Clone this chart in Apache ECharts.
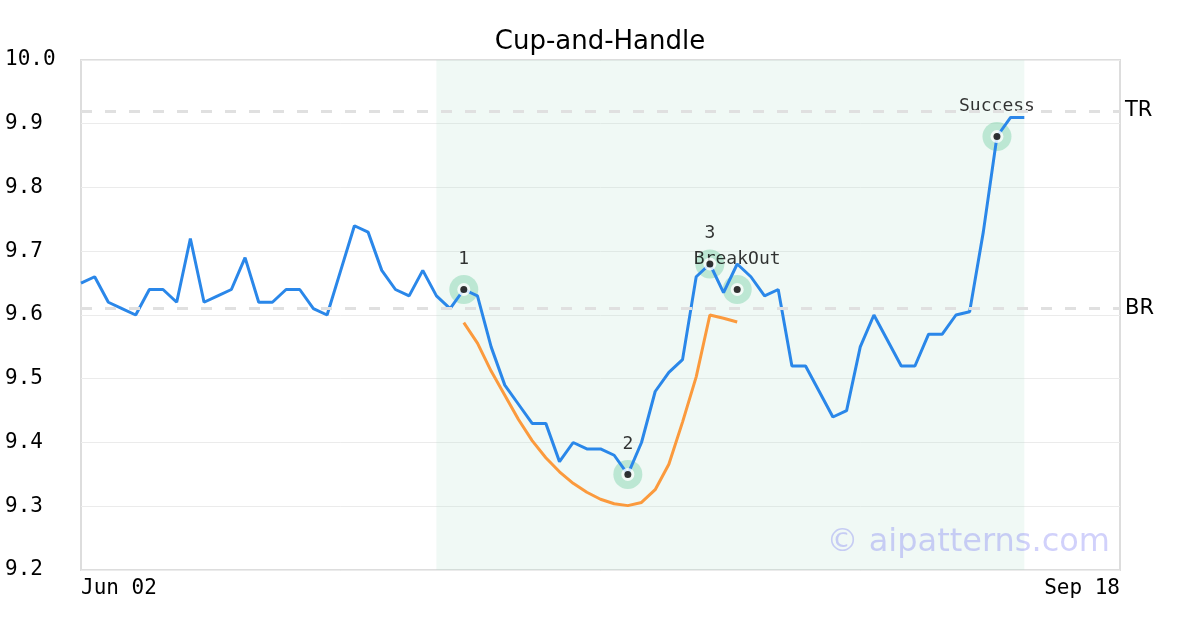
<!DOCTYPE html>
<html>
<head>
<meta charset="utf-8">
<script src="https://cdn.jsdelivr.net/npm/echarts@6/dist/echarts.min.js"></script>
<style>html,body{margin:0;padding:0;background:#fff}#c{width:1200px;height:630px}</style>
</head>
<body>
<div id="c"></div>
<script>
var categories = [
 'Jun 02','Jun 03','Jun 04','Jun 05','Jun 06','Jun 09','Jun 10','Jun 11','Jun 12','Jun 13',
 'Jun 16','Jun 17','Jun 18','Jun 19','Jun 20','Jun 23','Jun 24','Jun 25','Jun 26','Jun 27','Jun 30',
 'Jul 01','Jul 02','Jul 03','Jul 07','Jul 08','Jul 09','Jul 10','Jul 11','Jul 14','Jul 15','Jul 16',
 'Jul 17','Jul 18','Jul 21','Jul 22','Jul 23','Jul 24','Jul 25','Jul 28','Jul 29','Jul 30','Jul 31',
 'Aug 01','Aug 04','Aug 05','Aug 06','Aug 07','Aug 08','Aug 11','Aug 12','Aug 13','Aug 14','Aug 15',
 'Aug 18','Aug 19','Aug 20','Aug 21','Aug 22','Aug 25','Aug 26','Aug 27','Aug 28','Aug 29',
 'Sep 02','Sep 03','Sep 04','Sep 05','Sep 08','Sep 09','Sep 10','Sep 11','Sep 12','Sep 15','Sep 16','Sep 17','Sep 18'
];
var price = [
 9.65,9.66,9.62,9.61,9.60,9.64,9.64,9.62,9.72,9.62,
 9.63,9.64,9.69,9.62,9.62,9.64,9.64,9.61,9.60,9.67,
 9.74,9.73,9.67,9.64,9.63,9.67,9.63,9.61,9.64,9.63,
 9.55,9.49,9.46,9.43,9.43,9.37,9.40,9.39,9.39,9.38,
 9.35,9.40,9.48,9.51,9.53,9.66,9.68,9.635,9.68,9.66,
 9.63,9.64,9.52,9.52,9.48,9.44,9.45,9.55,9.60,9.56,
 9.52,9.52,9.57,9.57,9.60,9.605,9.73,9.88,9.91,9.91
];
var cupStart = 28;
var cupFit = [
 9.588,9.556,9.512,9.474,9.436,9.403,9.376,9.354,9.336,9.322,
 9.311,9.304,9.301,9.306,9.326,9.366,9.432,9.503,9.600,9.595,9.589
];
var markerIdx = [28, 40, 46, 48, 67];
var markerVal = [9.64, 9.35, 9.68, 9.64, 9.88];
var markerText = ['1', '2', '3', 'BreakOut', 'Success'];
var patternRange = [26, 69];
var levelTR = 9.917;
var levelBR = 9.609;
var yTicks = { min: 9.2, max: 10.0, step: 0.1 };

var cupData = categories.map(function (c, i) {
  var k = i - cupStart;
  return (k >= 0 && k < cupFit.length) ? cupFit[k] : null;
});
var priceData = categories.map(function (c, i) { return i < price.length ? price[i] : null; });
var pts = markerIdx.map(function (ix, i) { return [ix, markerVal[i]]; });
var mono = '"DejaVu Sans Mono", monospace';
var sans = '"DejaVu Sans", sans-serif';

var chart = echarts.init(document.getElementById('c'), null, { renderer: 'canvas' });
chart.setOption({
  animation: false,
  backgroundColor: '#fff',
  title: {
    text: 'Cup-and-Handle', left: 'center', top: 24,
    textStyle: { fontFamily: sans, fontSize: 26, fontWeight: 'normal', color: '#000' }
  },
  grid: { left: 81, right: 80, top: 60, bottom: 60, show: true, borderColor: '#dddddd', borderWidth: 2, backgroundColor: 'transparent' },
  xAxis: {
    type: 'category', data: categories, boundaryGap: false,
    axisLine: { show: false }, axisTick: { show: false },
    splitLine: { show: false },
    axisLabel: {
      interval: function (i) { return i === 0 || i === categories.length - 1; },
      alignMinLabel: 'left', alignMaxLabel: 'right',
      fontFamily: mono, fontSize: 21, color: '#000', margin: 8
    }
  },
  yAxis: {
    type: 'value', min: yTicks.min, max: yTicks.max, interval: yTicks.step,
    axisLine: { show: false }, axisTick: { show: false },
    splitLine: { show: true, lineStyle: { color: '#ebebeb', width: 1 } },
    axisLabel: {
      align: 'left', margin: 76, fontFamily: mono, fontSize: 21, color: '#000',
      padding: [5, 0, 0, 0],
      formatter: function (v) { return v.toFixed(1); }
    }
  },
  series: [
    {
      type: 'line', data: priceData, showSymbol: false, symbol: 'none', z: 3,
      lineStyle: { color: '#2a87e9', width: 3 },
      markArea: {
        silent: true,
        itemStyle: { color: 'rgba(180,225,205,0.2)' },
        data: [[{ xAxis: patternRange[0] }, { xAxis: patternRange[1] }]]
      },
      markLine: {
        silent: true, symbol: 'none',
        lineStyle: { color: '#e0e0e0', width: 3, type: [11, 13] },
        label: { position: 'end', distance: 5, fontFamily: sans, fontSize: 21, color: '#000', padding: [6, 0, 0, 0] },
        data: [
          { yAxis: levelTR, label: { formatter: 'TR' } },
          { yAxis: levelBR, label: { formatter: 'BR' } }
        ]
      }
    },
    {
      type: 'line', data: cupData, showSymbol: false, symbol: 'none', z: 3,
      lineStyle: { color: '#fb9a3d', width: 3 }
    },
    {
      type: 'scatter', data: pts, symbolSize: 29, z: 2,
      itemStyle: { color: 'rgba(110,205,160,0.5)' },
      label: {
        show: true, position: 'top', distance: 7,
        formatter: function (p) { return markerText[p.dataIndex]; },
        fontFamily: mono, fontSize: 18, color: '#000'
      }
    },
    {
      type: 'scatter', data: pts, symbolSize: 13, z: 4,
      itemStyle: { color: '#ffffff' }
    },
    {
      type: 'scatter', data: pts, symbolSize: 7, z: 5,
      itemStyle: { color: '#000000' }
    }
  ],
  graphic: [{
    type: 'text', right: 90, top: 527, z: 10, silent: true,
    style: { text: '\u00a9 aipatterns.com', fontFamily: sans, fontSize: 32, fill: 'rgba(90,90,240,0.28)' }
  }]
});
</script>
</body>
</html>
